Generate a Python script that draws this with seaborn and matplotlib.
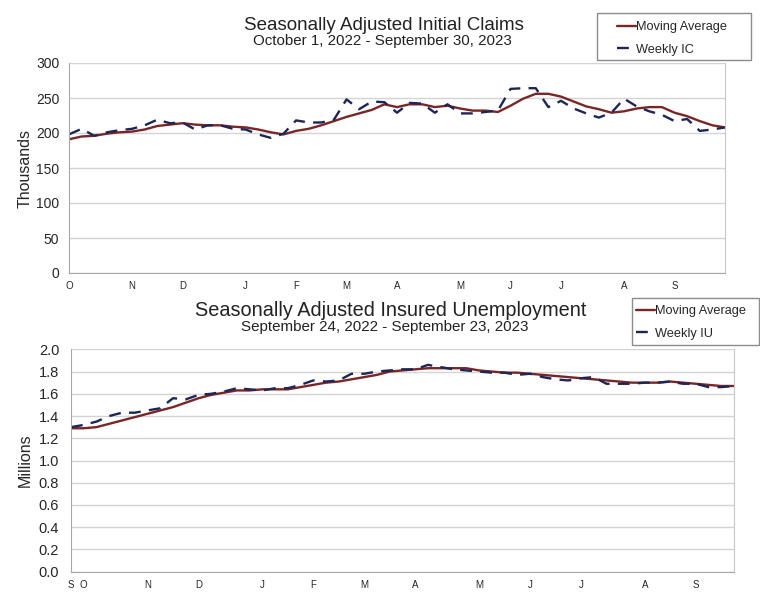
#!/usr/bin/env python3
"""
Seasonally adjusted initial claims and insured unemployment, weekly
with 4-week moving averages. Two stacked line charts.
"""

import numpy as np
import pandas as pd
import matplotlib
matplotlib.use("Agg")
import matplotlib.pyplot as plt
from matplotlib.patches import Rectangle
import seaborn as sns

ic_weekly = [198, 206, 196, 201, 204, 206, 211, 219, 214, 215, 205, 211, 211,
             206, 205, 198, 193, 199, 218, 215, 215, 219, 248, 234, 245, 244,
             229, 243, 242, 229, 241, 228, 228, 230, 232, 263, 264, 264, 237,
             246, 235, 228, 222, 229, 249, 238, 231, 226, 217, 220, 203, 205, 208]
ic_avg = [191, 195, 196, 199, 201, 202, 205, 210, 212, 214, 212, 211, 211,
          209, 208, 205, 201, 198, 203, 206, 211, 217, 223, 228, 233, 241,
          237, 241, 241, 237, 239, 235, 232, 232, 230, 239, 249, 256, 256,
          252, 245, 238, 234, 229, 231, 235, 237, 237, 229, 224, 217, 211, 208]

iu_weekly = [1.30, 1.32, 1.35, 1.40, 1.43, 1.43, 1.45, 1.47, 1.56, 1.55, 1.59,
             1.60, 1.62, 1.65, 1.64, 1.63, 1.65, 1.65, 1.68, 1.72, 1.71, 1.72,
             1.78, 1.78, 1.80, 1.81, 1.82, 1.82, 1.86, 1.84, 1.82, 1.81, 1.80,
             1.79, 1.79, 1.77, 1.78, 1.75, 1.73, 1.72, 1.74, 1.75, 1.69, 1.69,
             1.69, 1.70, 1.70, 1.71, 1.69, 1.69, 1.66, 1.66, 1.67]
iu_avg = [1.29, 1.29, 1.30, 1.33, 1.36, 1.39, 1.42, 1.45, 1.48, 1.52, 1.56,
          1.59, 1.61, 1.63, 1.63, 1.64, 1.64, 1.64, 1.66, 1.68, 1.70, 1.71,
          1.73, 1.75, 1.77, 1.80, 1.81, 1.82, 1.83, 1.83, 1.83, 1.83, 1.81,
          1.80, 1.79, 1.79, 1.78, 1.77, 1.76, 1.75, 1.74, 1.73, 1.72, 1.71,
          1.70, 1.70, 1.70, 1.71, 1.70, 1.69, 1.68, 1.67, 1.67]

# month labels: week index of first week of each month
ic_month_pos = [0, 5, 9, 14, 18, 22, 26, 31, 35, 39, 44, 48]
ic_month_lab = ["O", "N", "D", "J", "F", "M", "A", "M", "J", "J", "A", "S"]
iu_month_pos = [0, 1, 6, 10, 15, 19, 23, 27, 32, 36, 40, 45, 49]
iu_month_lab = ["S", "O", "N", "D", "J", "F", "M", "A", "M", "J", "J", "A", "S"]

AVG_COLOR = "#7a2626"
WEEK_COLOR = "#1e2557"
GRID = "#d4d4d4"
W, H = 760, 601

sns.set_style("white")
plt.rcParams["font.family"] = ["Liberation Sans", "DejaVu Sans"]


def draw_panel(ax, weekly, avg, weekly_name, ylim, yticks, ylabel,
               month_pos, month_lab, fmt, ypad, yfont):
    n = len(weekly)
    df = pd.DataFrame({"week": np.arange(n), "Moving Average": avg,
                       weekly_name: weekly})
    sns.lineplot(data=df, x="week", y="Moving Average", ax=ax,
                 color=AVG_COLOR, linewidth=1.7, label="Moving Average",
                 legend=False)
    sns.lineplot(data=df, x="week", y=weekly_name, ax=ax,
                 color=WEEK_COLOR, linewidth=1.7, label=weekly_name,
                 legend=False)
    ax.lines[-1].set_dashes([5, 3.5])

    ax.set_xlim(0, n - 1)
    ax.set_ylim(*ylim)
    ax.set_yticks(yticks)
    ax.set_yticklabels([fmt.format(t) for t in yticks], fontsize=yfont)
    ax.set_xticks(month_pos)
    ax.set_xticklabels(month_lab, fontsize=7)
    ax.set_xticks(np.arange(n), minor=True)
    ax.tick_params(axis="x", which="both", length=3, color="#a0a0a0",
                   pad=3, direction="out")
    ax.tick_params(axis="y", length=0, pad=ypad)
    ax.set_xlabel("")
    ax.set_ylabel(ylabel, fontsize=11.5)
    ax.yaxis.grid(True, color=GRID, linewidth=1)
    ax.set_axisbelow(True)
    ax.spines["top"].set_visible(False)
    ax.spines["left"].set_color("#a8a8a8")
    ax.spines["bottom"].set_color("#a8a8a8")
    ax.spines["right"].set_color("#c8c8c8")


fig = plt.figure(figsize=(7.6, 6.01), dpi=100)

ax1 = fig.add_axes([69 / W, 1 - 273 / H, 656 / W, 210 / H])
draw_panel(ax1, ic_weekly, ic_avg, "Weekly IC", (0, 300),
           [0, 50, 100, 150, 200, 250, 300], "Thousands",
           ic_month_pos, ic_month_lab, "{:.0f}", 7, 10)
ax1.yaxis.set_label_coords(-36 / 656, 0.5)

ax2 = fig.add_axes([71 / W, 1 - 571.7 / H, 663 / W, 222.4 / H])
draw_panel(ax2, iu_weekly, iu_avg, "Weekly IU", (0, 2.0),
           [0.0, 0.2, 0.4, 0.6, 0.8, 1.0, 1.2, 1.4, 1.6, 1.8, 2.0], "Millions",
           iu_month_pos, iu_month_lab, "{:.1f}", 8.5, 10.5)
ax2.yaxis.set_label_coords(-38 / 663, 0.5)

# titles
fig.text(384 / W, 1 - 30.5 / H, "Seasonally Adjusted Initial Claims",
         ha="center", va="baseline", fontsize=13.5, color="#222222")
fig.text(382 / W, 1 - 45.5 / H, "October 1, 2022 - September 30, 2023",
         ha="center", va="baseline", fontsize=10.9, color="#222222")
fig.text(391 / W, 1 - 316.5 / H, "Seasonally Adjusted Insured Unemployment",
         ha="center", va="baseline", fontsize=14.3, color="#222222")
fig.text(385 / W, 1 - 330.5 / H, "September 24, 2022 - September 23, 2023",
         ha="center", va="baseline", fontsize=10.9, color="#222222")

# legends: drawn box, then figure-level entries on top of it
for ax, box, anchor in [(ax1, (597, 13, 154, 47), (617, 21)),
                        (ax2, (632, 298, 127, 47), (636, 305))]:
    x0, y0, w, h = box
    fig.patches.append(Rectangle((x0 / W, 1 - (y0 + h) / H), w / W, h / H,
                                 transform=fig.transFigure, facecolor="white",
                                 edgecolor="#8c8c8c", linewidth=1.0,
                                 zorder=5))
    handles, labels = ax.get_legend_handles_labels()
    leg = fig.legend(handles, labels, loc="upper left",
                     bbox_to_anchor=(anchor[0] / W, 1 - anchor[1] / H),
                     bbox_transform=fig.transFigure,
                     fontsize=9.2, frameon=False, handlelength=1.45,
                     handletextpad=0.05, labelspacing=0.85,
                     borderpad=0, borderaxespad=0)
    leg.set_zorder(6)

fig.savefig("out.png", dpi=100)
